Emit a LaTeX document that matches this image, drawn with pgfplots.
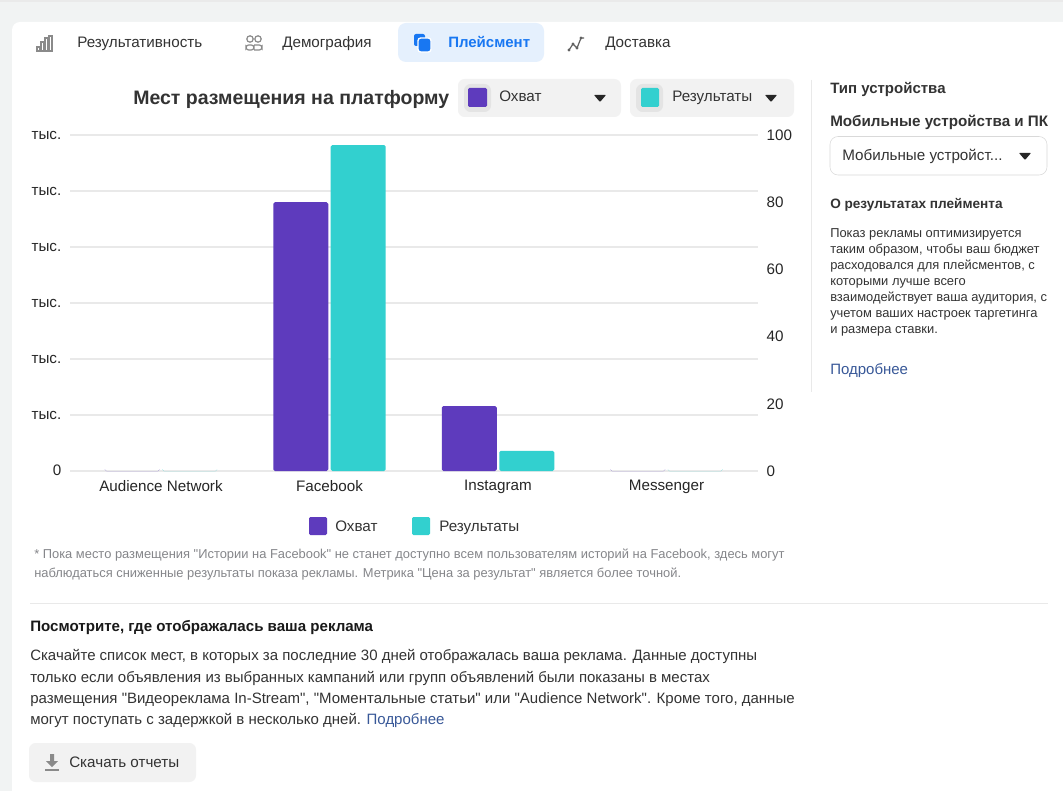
\documentclass[border=0pt]{standalone}
\usepackage{fontspec}
\setmainfont{Liberation Sans}[Ligatures=TeXOff]
\usepackage{pgfplots}
\pgfplotsset{compat=1.18}
\definecolor{purp}{HTML}{5E3BBD}
\definecolor{teal2}{HTML}{32D0CF}
\definecolor{gridc}{HTML}{E9E9E9}
\definecolor{pagebg}{HTML}{F1F3F3}
\definecolor{chip}{HTML}{F2F2F2}
\definecolor{chipd}{HTML}{E4E4E4}
\definecolor{txt}{HTML}{333333}
\definecolor{blu}{HTML}{1877F2}
\definecolor{lnk}{HTML}{385898}
\definecolor{gry}{HTML}{85868A}
\definecolor{ico}{HTML}{8A8A8A}
\newcommand{\PX}[1]{\fontsize{\the\dimexpr #1pt*3/4\relax}{\the\dimexpr #1pt*9/10\relax}\selectfont}
% \T{x}{baseline y}{font px}{colour}{text}
\newcommand{\T}[5]{\node[anchor=base west,inner sep=0pt,text=#4,font=\PX{#3}] at (#1,#2) {#5};}
\newcommand{\Tb}[5]{\node[anchor=base west,inner sep=0pt,text=#4,font=\PX{#3}\bfseries] at (#1,#2) {#5};}
\newcommand{\Tri}[3]{\fill[#3,rounded corners=0.5pt] (#1-6,#2-3) -- (#1+6,#2-3) -- (#1,#2+4) -- cycle;}
\newcommand{\tys}{\raisebox{-1pt}{тыс.}}
\pgfplotstableread{
idx reach
0 0
1 4.80
2 1.16
3 0
}\reachtable
\pgfplotstableread{
idx results
0 0
1 97
2 6
3 0
}\resultstable
\begin{document}
\begin{tikzpicture}[x=0.75pt,y=-0.75pt]
\path[use as bounding box] (0,0) rectangle (1063,791);
\fill[pagebg] (0,0) rectangle (1063,791);
\fill[gridc!80!black!30!white] (0,0) rectangle (1063,2);
\fill[white,rounded corners=6pt] (12,22) rectangle (1080,810);
% tabs
\fill[blu!11!white,rounded corners=6pt] (398,23) rectangle (544,62);
\T{77}{47.5}{15.2}{txt}{Результативность}
\T{282}{47.5}{15.2}{txt}{Демография}
\Tb{448}{47.5}{15}{blu}{Плейсмент}
\T{605}{47.5}{15.2}{txt}{Доставка}
% tab icons
\foreach \xx/\hh in {37/4,41/9,45/13,49/15}{\draw[ico,line width=0.8pt] (\xx,51) rectangle (\xx+3,51-\hh);}
\draw[ico,line width=0.9pt] (250,39) circle (3.2) (258,39) circle (3.2);
\draw[ico,line width=0.9pt,rounded corners=2pt] (246,50) -- (246,45) -- (254,45) -- (254,50) -- cycle (254,45) -- (262,45) -- (262,50) -- (254,50);
\fill[blu,rounded corners=1.5pt] (414,34) rectangle (425,46);
\draw[white,line width=1pt,fill=blu,rounded corners=2pt] (418,38) rectangle (431,52);
\draw[ico!70!black,line width=0.9pt] (569,50) -- (573,44) -- (577,48) -- (581,38) -- (584,38);
\foreach \xx/\yy in {569/50,573/44,577/48,581/38}{\fill[ico!70!black] (\xx,\yy) circle (1.6);}
% title and chips
\Tb{133}{105}{19.5}{txt}{Мест размещения на платформу}
\fill[chip,rounded corners=5pt] (458,79) rectangle (621,117);
\fill[chipd,rounded corners=5pt] (464,84) rectangle (491,112);
\fill[purp,rounded corners=1pt] (468,88) rectangle (487,107);
\T{499}{101.5}{15.2}{txt}{Охват}
\Tri{600}{98}{black!85}
\fill[chip,rounded corners=5pt] (630,79) rectangle (794,117);
\fill[chipd,rounded corners=5pt] (636,84) rectangle (663,112);
\fill[teal2,rounded corners=1pt] (641,88) rectangle (659,107);
\T{672}{101.5}{15.2}{txt}{Результаты}
\Tri{771}{98}{black!85}
% chart
\begin{axis}[
  at={(52.5pt,-353.25pt)},anchor=south west,
  scale only axis,width=516pt,height=252pt,
  xmin=-0.54,xmax=3.543,ymin=0,ymax=6,
  xtick={0,1,2,3},
  xticklabels={Audience Network,Facebook,Instagram,Messenger},
  ytick={0,1,2,3,4,5,6},
  yticklabels={\raisebox{0.5pt}{0},\tys,\tys,\tys,\tys,\tys,\tys},
  axis line style={draw=none},
  major tick length=0pt,
  ymajorgrids,
  grid style={gridc,line width=1.4pt},
  tick label style={font=\PX{15.2},text=black!85},
  yticklabel style={xshift=-3pt},
  xticklabel style={yshift=-3.4pt},
  ybar,
  bar width=41.25pt,
  clip=false,
]
\addplot+[ybar,bar shift=-21.56pt,fill=purp,draw=none,rounded corners=1.2pt,mark=none] table[x=idx,y=reach] {\reachtable};
\end{axis}
\begin{axis}[
  at={(52.5pt,-353.25pt)},anchor=south west,
  scale only axis,width=516pt,height=252pt,
  xmin=-0.54,xmax=3.543,ymin=0,ymax=100,
  xtick=\empty,
  ytick={0,20,40,60,80,100},
  axis y line*=right,axis x line=none,
  axis line style={draw=none},
  major tick length=0pt,
  tick label style={font=\PX{15.2},text=black!85},
  yticklabel style={xshift=3pt},
  /pgf/number format/assume math mode=true,
  ybar,
  bar width=41.25pt,
  clip=false,
]
\addplot+[ybar,bar shift=21.56pt,fill=teal2,draw=none,rounded corners=1.2pt,mark=none] table[x=idx,y=results] {\resultstable};
\end{axis}
% legend
\fill[purp,rounded corners=1pt] (309,517) rectangle (327,535);
\T{335}{531.5}{15.2}{txt}{Охват}
\fill[teal2,rounded corners=1pt] (412,517) rectangle (430,535);
\T{439}{531.5}{15.2}{txt}{Результаты}
% notes
\T{34}{558}{12.9}{gry}{* Пока место размещения "Истории на Facebook" не станет доступно всем пользователям историй на Facebook, здесь могут}
\T{34}{577}{12.9}{gry}{наблюдаться сниженные результаты показа рекламы. Метрика "Цена за результат" является более точной.}
% right panel
\draw[gridc,line width=0.75pt] (811,80) -- (811,392);
\Tb{830}{93.5}{15}{txt}{Тип устройства}
\Tb{830}{126.5}{15.2}{txt}{Мобильные устройства и ПК}
\draw[black!15,fill=white,rounded corners=6pt] (830,136.5) rectangle (1047,175);
\T{842}{160.5}{15.2}{txt}{Мобильные устройст...}
\Tri{1025}{156}{black!85}
\Tb{830}{208.5}{13.6}{txt}{О результатах плеймента}
\T{830}{238}{12.9}{txt}{Показ рекламы оптимизируется}
\T{830}{254}{12.9}{txt}{таким образом, чтобы ваш бюджет}
\T{830}{270}{12.9}{txt}{расходовался для плейсментов, с}
\T{830}{286}{12.9}{txt}{которыми лучше всего}
\T{830}{302}{12.9}{txt}{взаимодействует ваша аудитория, с}
\T{830}{318}{12.9}{txt}{учетом ваших настроек таргетинга}
\T{830}{334}{12.9}{txt}{и размера ставки.}
\T{830}{374}{15}{lnk}{Подробнее}
% bottom
\draw[gridc,line width=0.75pt] (30,603) -- (1048,603);
\Tb{30}{631}{15.1}{black!90}{Посмотрите, где отображалась ваша реклама}
\T{30}{660.5}{15}{txt}{Скачайте список мест, в которых за последние 30 дней отображалась ваша реклама. Данные доступны}
\T{30}{682}{15}{txt}{только если объявления из выбранных кампаний или групп объявлений были показаны в местах}
\T{30}{703.5}{15}{txt}{размещения "Видеореклама In-Stream", "Моментальные статьи" или "Audience Network". Кроме того, данные}
\node[anchor=base west,inner sep=0pt,font=\PX{15},text=txt] at (30,724.5) {могут поступать с задержкой в несколько дней. \textcolor{lnk}{Подробнее}};
\fill[chip,rounded corners=5pt] (29,743) rectangle (196,782);
\T{69}{767}{15.2}{txt}{Скачать отчеты}
\fill[ico] (50,754) rectangle (54,761) (46,761) -- (58,761) -- (52,767) -- cycle;
\fill[ico] (45,769) rectangle (59,771);
\end{tikzpicture}
\end{document}
